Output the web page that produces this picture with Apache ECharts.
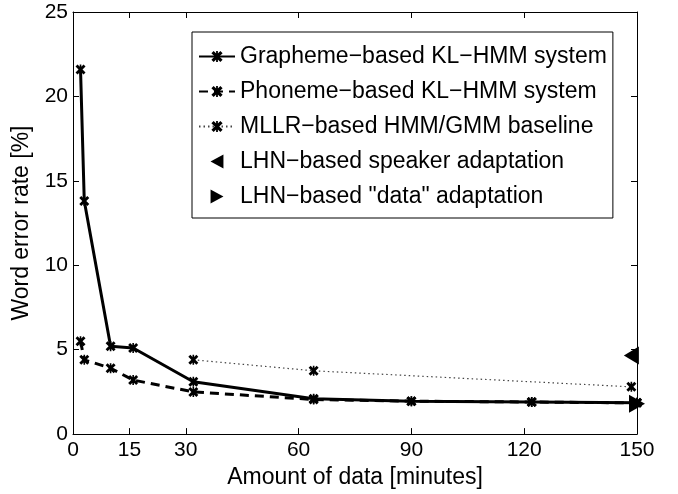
<!DOCTYPE html>
<html>
<head>
<meta charset="utf-8">
<script src="https://cdn.jsdelivr.net/npm/echarts@6/dist/echarts.min.js"></script>
<style>
  html, body { margin: 0; padding: 0; background: #fff; }
  #chart { width: 678px; height: 494px; }
</style>
</head>
<body>
<div id="chart"></div>
<script>
const xTickValues = [0, 15, 30, 60, 90, 120, 150];

const graphemeMinutes = [2, 3, 10, 16, 32, 64, 90, 122, 150];
const graphemeWer = [21.6, 13.8, 5.2, 5.1, 3.1, 2.1, 1.95, 1.9, 1.85];

const phonemeMinutes = [2, 3, 10, 16, 32, 64, 90, 122, 150];
const phonemeWer = [5.5, 4.4, 3.9, 3.2, 2.5, 2.05, 1.95, 1.9, 1.85];

const mllrMinutes = [32, 64, 148.5];
const mllrWer = [4.4, 3.75, 2.8];

const speakerAdaptMinutes = [148.5];
const speakerAdaptWer = [4.65];

const dataAdaptMinutes = [150];
const dataAdaptWer = [1.8];

const FONT = '"Liberation Sans", Arial, Helvetica, sans-serif';
// bold x with a vertical stroke, close to the matlab asterisk look
const STAR = 'path://M0,2L2,0L5,3L8,0L10,2L7,5L10,8L8,10L5,7L2,10L0,8L3,5Z M4.2,0L5.8,0L5.8,10L4.2,10Z';
const LEFT_TRI = 'path://M12,0L12,13L0,6.5Z';
const RIGHT_TRI = 'path://M0,0L12,6.5L0,13Z';

const NAMES = [
  'Grapheme\u2212based KL\u2212HMM system',
  'Phoneme\u2212based KL\u2212HMM system',
  'MLLR\u2212based HMM/GMM baseline',
  'LHN\u2212based speaker adaptation',
  'LHN\u2212based "data" adaptation',
];

function toPairs(xs, ys) {
  return xs.map((x, i) => [x, ys[i]]);
}

const chart = echarts.init(document.getElementById('chart'), null, { renderer: 'canvas' });

const boxAxis = {
  axisLine: { show: true, onZero: false, lineStyle: { color: '#000', width: 1 } },
  axisTick: { show: true, inside: true, length: 6, lineStyle: { color: '#000' } },
  splitLine: { show: false },
};

chart.setOption({
  animation: false,
  backgroundColor: '#fff',
  textStyle: { fontFamily: FONT, color: '#000' },
  grid: { left: 73, right: 41, top: 12, bottom: 57, containLabel: false },
  legend: {
    orient: 'vertical',
    left: 192,
    top: 32,
    padding: [13, 6, 10, 6],
    itemWidth: 36,
    itemHeight: 14,
    itemGap: 12,
    itemTextGap: 5,
    borderColor: '#000',
    borderWidth: 1,
    backgroundColor: '#fff',
    textStyle: { fontFamily: FONT, fontSize: 23, lineHeight: 23, color: '#000' },
    data: [
      NAMES[0],
      NAMES[1],
      NAMES[2],
      { name: NAMES[3], icon: LEFT_TRI },
      { name: NAMES[4], icon: RIGHT_TRI },
    ],
  },
  xAxis: [
    {
      ...boxAxis,
      type: 'value',
      position: 'bottom',
      min: 0,
      max: 150,
      axisTick: { ...boxAxis.axisTick, customValues: xTickValues },
      axisLabel: {
        customValues: xTickValues,
        fontSize: 21,
        color: '#000',
        fontFamily: FONT,
        margin: 6,
      },
      name: 'Amount of data [minutes]',
      nameLocation: 'middle',
      nameGap: 30,
      nameTextStyle: { fontSize: 23, color: '#000', fontFamily: FONT },
    },
    {
      ...boxAxis,
      type: 'value',
      position: 'top',
      min: 0,
      max: 150,
      axisTick: { ...boxAxis.axisTick, customValues: xTickValues },
      axisLabel: { show: false },
    },
  ],
  yAxis: [
    {
      ...boxAxis,
      type: 'value',
      position: 'left',
      min: 0,
      max: 25,
      interval: 5,
      axisLabel: { fontSize: 21, color: '#000', fontFamily: FONT, margin: 5 },
      name: 'Word error rate [%]',
      nameLocation: 'middle',
      nameGap: 40,
      nameTextStyle: { fontSize: 23, color: '#000', fontFamily: FONT },
    },
    {
      ...boxAxis,
      type: 'value',
      position: 'right',
      min: 0,
      max: 25,
      interval: 5,
      axisLabel: { show: false },
    },
  ],
  series: [
    {
      name: NAMES[0],
      type: 'line',
      data: toPairs(graphemeMinutes, graphemeWer),
      symbol: STAR,
      symbolSize: 10,
      clip: false,
      itemStyle: { color: '#000' },
      lineStyle: { color: '#000', width: 3 },
    },
    {
      name: NAMES[1],
      type: 'line',
      data: toPairs(phonemeMinutes, phonemeWer),
      symbol: STAR,
      symbolSize: 10,
      clip: false,
      itemStyle: { color: '#000' },
      lineStyle: { color: '#000', width: 3, type: [9, 6] },
    },
    {
      name: NAMES[2],
      type: 'line',
      data: toPairs(mllrMinutes, mllrWer),
      symbol: STAR,
      symbolSize: 10,
      clip: false,
      itemStyle: { color: '#000' },
      lineStyle: { color: '#444', width: 1.2, type: [1.5, 3] },
    },
    {
      name: NAMES[3],
      type: 'scatter',
      data: toPairs(speakerAdaptMinutes, speakerAdaptWer),
      symbol: LEFT_TRI,
      symbolSize: [15, 18],
      clip: false,
      itemStyle: { color: '#000', opacity: 1 },
    },
    {
      name: NAMES[4],
      type: 'scatter',
      data: toPairs(dataAdaptMinutes, dataAdaptWer),
      symbol: RIGHT_TRI,
      symbolSize: [16, 18],
      clip: false,
      itemStyle: { color: '#000', opacity: 1 },
    },
  ],
});
</script>
</body>
</html>
